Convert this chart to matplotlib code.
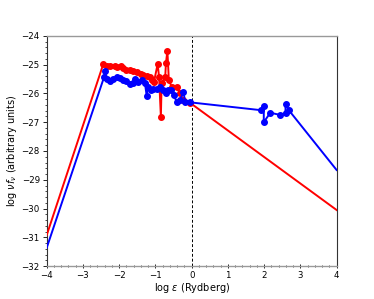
import matplotlib
matplotlib.use("Agg")
import matplotlib.pyplot as plt
from matplotlib.ticker import AutoMinorLocator, MultipleLocator

red_x = [-4.0, -2.44, -2.35, -2.26, -2.12, -2.06, -1.95, -1.89, -1.80, -1.70, -1.61,
         -1.52, -1.41, -1.34, -1.24, -1.15, -1.10, -1.04, -0.94, -0.90, -0.85, -0.83,
         -0.73, -0.71, -0.67, -0.63, -0.55, -0.41, -0.32, -0.23, -0.04, 4.0]
red_y = [-30.92, -24.98, -25.05, -25.05, -25.03, -25.08, -25.05, -25.13, -25.17, -25.19, -25.22,
         -25.25, -25.31, -25.35, -25.40, -25.44, -25.54, -25.60, -24.98, -25.42, -26.81, -25.65,
         -25.42, -24.94, -24.52, -25.54, -25.77, -25.77, -26.00, -26.23, -26.33, -30.05]

blue_x = [-4.0, -2.42, -2.38, -2.35, -2.26, -2.17, -2.07, -1.98, -1.89, -1.80, -1.70,
          -1.63, -1.57, -1.47, -1.38, -1.29, -1.24, -1.20, -1.13, -1.06, -0.96, -0.87,
          -0.80, -0.71, -0.64, -0.58, -0.50, -0.41, -0.32, -0.23, -0.18, -0.04,
          1.90, 1.99, 1.99, 2.17, 2.45, 2.59, 2.59, 2.68, 4.0]
blue_y = [-31.36, -25.44, -25.22, -25.51, -25.56, -25.51, -25.42, -25.48, -25.54, -25.56, -25.68,
          -25.65, -25.51, -25.60, -25.54, -25.65, -26.09, -25.77, -25.89, -25.83, -25.86, -25.77,
          -25.89, -25.98, -25.89, -25.89, -26.06, -26.29, -26.23, -25.94, -26.29, -26.31,
          -26.58, -26.44, -27.00, -26.67, -26.75, -26.67, -26.35, -26.58, -28.66]

fig = plt.figure(figsize=(3.74, 2.99), dpi=100)
ax = fig.add_axes([0.125, 0.11, 0.775, 0.77])

ax.plot(red_x, red_y, color='red', lw=1.4, zorder=3)
ax.plot(red_x[1:-1], red_y[1:-1], 'o', color='red', ms=4, zorder=3)
ax.plot(blue_x, blue_y, color='blue', lw=1.4, zorder=4)
ax.plot(blue_x[1:-1], blue_y[1:-1], 'o', color='blue', ms=4, zorder=4)

ax.axvline(0, color='black', ls='--', lw=0.7, dashes=(3, 2))

ax.set_xlim(-4, 4)
ax.set_ylim(-32, -24)
ax.xaxis.set_major_locator(MultipleLocator(1))
ax.yaxis.set_major_locator(MultipleLocator(1))
ax.xaxis.set_minor_locator(AutoMinorLocator(5))
ax.yaxis.set_minor_locator(AutoMinorLocator(5))
ax.tick_params(axis='both', which='major', labelsize=6.2, length=3, width=0.6, pad=2)
ax.tick_params(axis='both', which='minor', length=1.8, width=0.5)
ax.tick_params(axis='x', which='both', direction='inout')
ax.set_xlabel(r'log $\epsilon$ (Rydberg)', fontsize=7, labelpad=1)
ax.set_ylabel(r'log $\nu f_\nu$ (arbitrary units)', fontsize=7, labelpad=2)
for s in ['top', 'bottom']:
    ax.spines[s].set_color('#999999')
    ax.spines[s].set_linewidth(1.0)
for s in ['left', 'right']:
    ax.spines[s].set_color('#333333')
    ax.spines[s].set_linewidth(0.8)

fig.savefig('out.png', dpi=100)
